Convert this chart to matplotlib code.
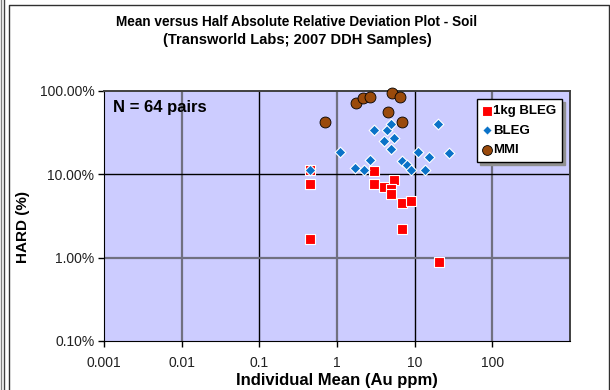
import matplotlib.pyplot as plt
import matplotlib.ticker as mticker
from matplotlib.lines import Line2D
import numpy as np

plt.rcParams['font.family'] = ['Liberation Sans', 'DejaVu Sans']

# ===== datos (media individual Au ppm, HARD %) =====
bleg1kg_x = [0.449, 0.449, 3.0, 0.449, 3.0, 4.0, 5.49, 4.93, 4.93, 6.89, 9.01, 6.89, 0.449, 20.7]
bleg1kg_y = [11.4, 7.71, 11.0, 7.71, 7.71, 7.10, 8.47, 6.67, 5.80, 4.52, 4.74, 2.22, 1.66, 0.885]

bleg_x = [0.449, 1.09, 3.0, 4.46, 4.97, 4.0, 5.49, 4.93, 2.67, 1.71, 2.25,
          6.96, 7.93, 9.01, 10.9, 15.3, 13.4, 27.9, 19.7]
bleg_y = [11.4, 18.5, 33.7, 33.7, 40.5, 25.3, 27.5, 20.3, 15.0, 11.9, 11.3,
          14.6, 12.8, 11.3, 18.5, 16.3, 11.3, 18.2, 40.5]

mmi_x = [0.70, 1.74, 2.18, 2.69, 5.12, 6.44, 4.51, 6.96]
mmi_y = [42.4, 71.2, 81.7, 84.7, 93.8, 83.9, 56.0, 42.8]

W, H = 610, 390
fig = plt.figure(figsize=(W / 100, H / 100), dpi=100)

# bordes del area de grafico
fig.add_artist(Line2D([1 / W, 1 / W], [0, 1], color='#808080', lw=1))
fig.add_artist(Line2D([3.5 / W, 3.5 / W], [0, 1], color='#404040', lw=1))
fig.add_artist(Line2D([9 / W, 9 / W, 608.5 / W, 608.5 / W], [0, 1 - 5 / H, 1 - 5 / H, 0],
                      color='#303030', lw=1))

ax = fig.add_axes([104 / W, 1 - 341 / H, 466 / W, 250 / H])
ax.set_facecolor('#CCCCFF')
ax.set_xscale('log')
ax.set_yscale('log')
ax.set_xlim(0.001, 1000)
ax.set_ylim(0.1, 100)

# lineas de cuadricula (alternan gris y negro como en Excel)
gris = '#707080'
for xv, c in [(0.01, gris), (0.1, 'black'), (1, gris), (10, 'black'), (100, gris)]:
    ax.axvline(xv, color=c, lw=1.6 if c == gris else 1.0, zorder=1)
for yv, c in [(10, 'black'), (1, gris)]:
    ax.axhline(yv, color=c, lw=1.0 if c == 'black' else 1.6, zorder=1)

for s in ['left', 'bottom']:
    ax.spines[s].set_color('black')
ax.spines['top'].set_color('#404040')
ax.spines['right'].set_color('#404040')
ax.spines['top'].set_linewidth(1.4)
ax.spines['right'].set_linewidth(1.4)

ax.xaxis.set_minor_locator(mticker.NullLocator())
ax.yaxis.set_minor_locator(mticker.NullLocator())
ax.set_xticks([0.001, 0.01, 0.1, 1, 10, 100])
ax.set_xticklabels(['0.001', '0.01', '0.1', '1', '10', '100'])
ax.set_yticks([0.1, 1, 10, 100])
ax.set_yticklabels(['0.10%', '1.00%', '10.00%', '100.00%'])
ax.tick_params(axis='both', direction='out', length=4, width=1, labelsize=10,
               colors='black', labelcolor='#202020', pad=3)
ax.tick_params(axis='x', pad=7)

# series
ax.scatter(bleg1kg_x, bleg1kg_y, marker='s', s=55, c='#FF0000', edgecolors='white',
           linewidths=0.8, zorder=3, label='1kg BLEG')
ax.scatter(bleg_x, bleg_y, marker='D', s=30, c='#0A72C8', edgecolors='white',
           linewidths=0.8, zorder=4, label='BLEG')
ax.scatter(mmi_x, mmi_y, marker='o', s=62, c='#9A4A0C', edgecolors='black',
           linewidths=0.6, zorder=5, label='MMI', clip_on=False)

ax.text(0.0013, 63, 'N = 64 pairs', fontsize=12, fontweight='bold', va='center')

leg = ax.legend(loc='upper left', bbox_to_anchor=((477 - 104) / 466, (341 - 99) / 250),
                frameon=True, fancybox=False, shadow={'color': '#909090', 'alpha': 1},
                prop={'weight': 'bold', 'size': 9.5}, handletextpad=0.15,
                borderpad=0.45, labelspacing=0.55, handlelength=0.6, borderaxespad=0,
                markerscale=0.9)
leg.get_frame().set_edgecolor('black')
leg.get_frame().set_linewidth(1)

ax.set_xlabel('Individual Mean (Au ppm)', fontsize=12, fontweight='bold', labelpad=2)
ax.set_ylabel('HARD (%)', fontsize=11, fontweight='bold')
ax.yaxis.set_label_coords(-(104 - 30) / 466, (341 - 227) / 250)

fig.text(297 / W, 1 - 22 / H, 'Mean versus Half Absolute Relative Deviation Plot - Soil',
         ha='center', va='center', fontsize=9.8, fontweight='bold')
fig.text(297 / W, 1 - 40 / H, '(Transworld Labs; 2007 DDH Samples)',
         ha='center', va='center', fontsize=10.5, fontweight='bold')

fig.savefig('out.png', dpi=100)
